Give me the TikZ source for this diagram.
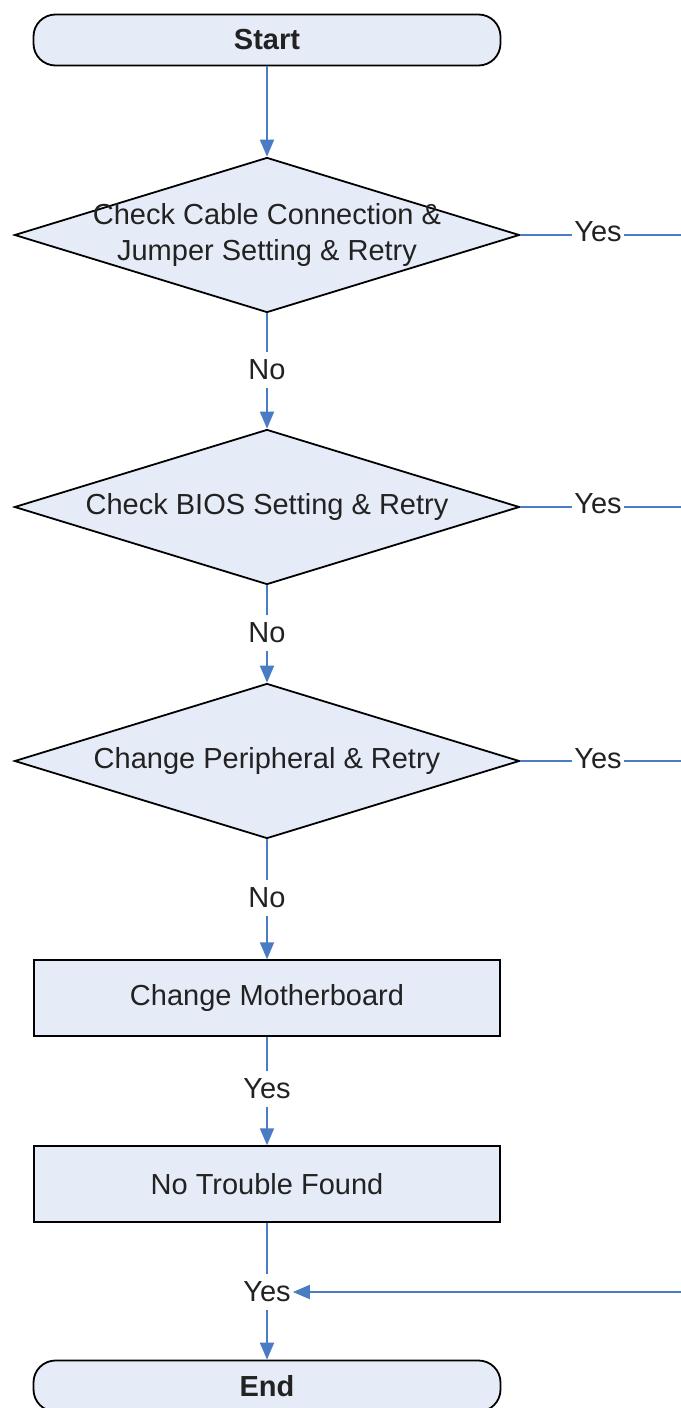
\documentclass[tikz,border=0pt]{standalone}
\usepackage{fontspec}
\setmainfont{Liberation Sans}
\usetikzlibrary{shapes.geometric,arrows.meta}
\definecolor{boxfill}{HTML}{E6ECF7}
\definecolor{flow}{HTML}{4A7CC4}
\definecolor{ink}{HTML}{222222}
\begin{document}
\begin{tikzpicture}[x=1pt,y=-1pt,
  every node/.style={font=\fontsize{29}{36}\selectfont, text=ink},
  terminal/.style={draw=black, line width=1.8pt, fill=boxfill, rounded corners=22pt,
    minimum width=467pt, minimum height=51pt, inner sep=0pt},
  decision/.style={diamond, draw=black, line width=1.8pt, fill=boxfill,
    minimum width=505pt, minimum height=155pt, inner sep=0pt},
  process/.style={rectangle, draw=black, line width=1.5pt, fill=boxfill,
    minimum width=466pt, minimum height=76pt, inner sep=0pt},
  dtext/.style={align=center, inner sep=0pt},
  lbl/.style={inner xsep=2pt, inner ysep=8pt},
  flowline/.style={draw=flow, line width=2pt},
  flowarrow/.style={flowline, -{Triangle[width=14pt,length=17pt]}}
]
\useasboundingbox (0,0) rectangle (680,1408);

% shapes
\node[terminal] (start) at (267,40) {\bfseries Start};
\node[decision] (d1) at (267,235) {};
\node[dtext] (t1) at (d1) {Check Cable Connection \&\\Jumper Setting \& Retry};
\node[decision] (d2) at (267,507) {};
\node[dtext] (t2) at (d2) {Check BIOS Setting \& Retry};
\node[decision] (d3) at (267,761) {};
\node[dtext] (t3) at (d3) {Change Peripheral \& Retry};
\node[process] (p1) at (267,998) {Change Motherboard};
\node[process] (p2) at (267,1184) {No Trouble Found};
\node[terminal] (end) at (267,1386) {\bfseries End};

% branch labels
\node[lbl] (n1) at (267,370) {No};
\node[lbl] (n2) at (267,633) {No};
\node[lbl] (n3) at (267,898) {No};
\node[lbl] (y4) at (267,1089) {Yes};
\node[lbl] (y5) at (267,1292) {Yes};
\node[lbl] (y1) at (598,232) {Yes};
\node[lbl] (y2) at (598,504) {Yes};
\node[lbl] (y3) at (598,759) {Yes};

% loose ends at the right margin
\coordinate (r1) at (682,235);
\coordinate (r2) at (682,507);
\coordinate (r3) at (682,761);
\coordinate (r5) at (682,1292);

% main flow
\draw[flowarrow] (start) -- (d1.north);
\draw[flowline] (d1.south) -- (n1.north);
\draw[flowarrow] (n1.south) -- (d2.north);
\draw[flowline] (d2.south) -- (n2.north);
\draw[flowarrow] (n2.south) -- (d3.north);
\draw[flowline] (d3.south) -- (n3.north);
\draw[flowarrow] (n3.south) -- (p1.north);
\draw[flowline] (p1.south) -- (y4.north);
\draw[flowarrow] (y4.south) -- (p2.north);
\draw[flowline] (p2.south) -- (y5.north);
\draw[flowarrow] (y5.south) -- (end.north);

% yes branches
\draw[flowline] (d1.east) -- (y1.west |- d1.east);
\draw[flowline] (y1.east |- r1) -- (r1);
\draw[flowline] (d2.east) -- (y2.west |- d2.east);
\draw[flowline] (y2.east |- r2) -- (r2);
\draw[flowline] (d3.east) -- (y3.west |- d3.east);
\draw[flowline] (y3.east |- r3) -- (r3);
\draw[flowarrow] (r5) -- (y5.east);
\end{tikzpicture}
\end{document}
